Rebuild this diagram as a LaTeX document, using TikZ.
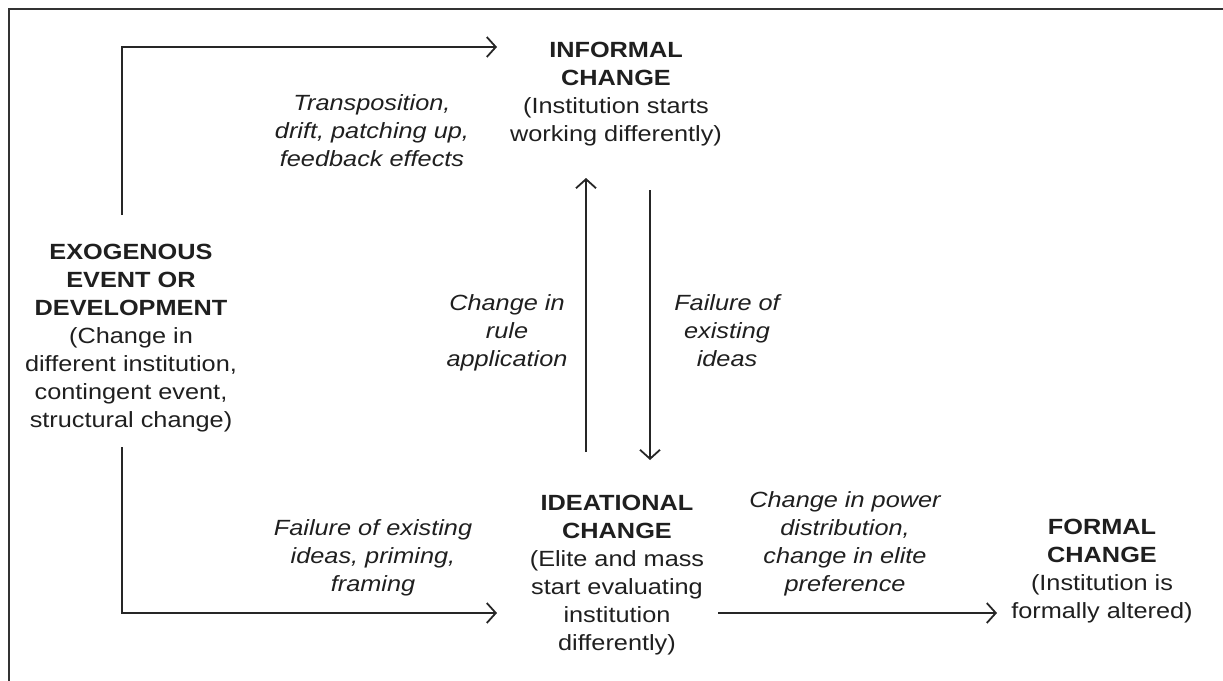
\documentclass[tikz,border=0pt]{standalone}
\usepackage{fontspec}
\setmainfont[FakeStretch=1.15]{Liberation Sans}
\usetikzlibrary{arrows.meta}
\begin{document}
\begin{tikzpicture}[x=1pt,y=-1pt,
  txt/.style={align=center, inner sep=0pt, anchor=base, font=\fontsize{22}{28}\selectfont, text=black!88},
  lab/.style={align=center, inner sep=0pt, anchor=base, font=\fontsize{22}{28}\selectfont\itshape, text=black!88},
  arr/.style={draw=black!85, line width=1.8pt, -{Straight Barb[length=9pt,width=20pt,line width=1.8pt]}},
  frame/.style={draw=black!80, line width=2.5pt}]
\useasboundingbox (0,0) rectangle (1223,680);
\coordinate (fb) at (9,682);
\coordinate (ftl) at (9,9);
\coordinate (fr) at (1225,9);
\draw[frame] (fb) -- (ftl) -- (fr);

% main nodes (anchored at the baseline of their last line)
\node[txt] (exo) at (131,427) {\textbf{EXOGENOUS}\\\textbf{EVENT OR}\\\textbf{DEVELOPMENT}\\(Change in\\different institution,\\contingent event,\\structural change)};
\node[txt] (inf) at (616,141) {\textbf{INFORMAL}\\\textbf{CHANGE}\\(Institution starts\\working differently)};
\node[txt] (ide) at (617,650) {\textbf{IDEATIONAL}\\\textbf{CHANGE}\\(Elite and mass\\start evaluating\\institution\\differently)};
\node[txt] (for) at (1102,618) {\textbf{FORMAL}\\\textbf{CHANGE}\\(Institution is\\formally altered)};

% labels
\node[lab] (l1) at (372,166) {Transposition,\\drift, patching up,\\feedback effects};
\node[lab] (l2) at (507,366) {Change in\\rule\\application};
\node[lab] (l3) at (727,366) {Failure of\\existing\\ideas};
\node[lab] (l4) at (373,591) {Failure of existing\\ideas, priming,\\framing};
\node[lab] (l5) at (845,591) {Change in power\\distribution,\\change in elite\\preference};

% connector coordinates
\coordinate (a1) at (122,215);
\coordinate (a1c) at (122,47);
\coordinate (a1e) at (497,47);
\coordinate (a2) at (122,447);
\coordinate (a2c) at (122,613);
\coordinate (a2e) at (497,613);
\coordinate (u1) at (586,452);
\coordinate (u2) at (586,178);
\coordinate (d1) at (650,190);
\coordinate (d2) at (650,460);
\coordinate (h1) at (718,613);
\coordinate (h2) at (997,613);

\draw[arr] (a1) -- (a1c) -- (a1e);
\draw[arr] (a2) -- (a2c) -- (a2e);
\draw[arr] (u1) -- (u2);
\draw[arr] (d1) -- (d2);
\draw[arr] (h1) -- (h2);
\end{tikzpicture}
\end{document}
